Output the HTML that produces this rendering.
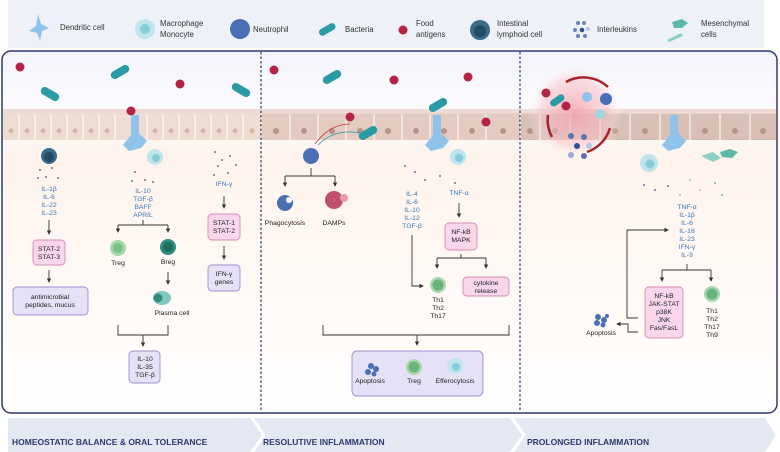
<!DOCTYPE html>
<html><head><meta charset="utf-8"><style>
html,body{margin:0;padding:0;background:#fff;}
svg{display:block;font-family:"Liberation Sans",sans-serif;}
.b{fill:#3a78b8;font-size:6.8px;text-anchor:middle;}
.k{fill:#222;font-size:6.8px;text-anchor:middle;}
.lg{fill:#333;font-size:7.8px;}
.ln{stroke:#333;stroke-width:0.9;fill:none;}
.pk{fill:#f9d6ea;stroke:#d889b8;stroke-width:0.9;}
.pu{fill:#e6e1f6;stroke:#9c8fd0;stroke-width:0.9;}
.hd{fill:#2d3a6e;font-size:8.5px;font-weight:bold;}
</style></head><body>
<svg width="780" height="452" viewBox="0 0 780 452">
<defs>
<marker id="a" markerWidth="5" markerHeight="5" refX="4" refY="2.5" orient="auto"><path d="M0,0L5,2.5L0,5z" fill="#333"/></marker>
<linearGradient id="bg" x1="0" y1="0" x2="0" y2="1"><stop offset="0" stop-color="#f3f4fb"/><stop offset="0.15" stop-color="#fbfbfe"/><stop offset="0.3" stop-color="#fef3ec"/><stop offset="1" stop-color="#ffffff"/></linearGradient>
<radialGradient id="glow"><stop offset="0" stop-color="#f4a0ad" stop-opacity="0.8"/><stop offset="0.7" stop-color="#f8c0c8" stop-opacity="0.5"/><stop offset="1" stop-color="#fff" stop-opacity="0"/></radialGradient>
</defs>
<rect x="8" y="0" width="756" height="48" fill="#eef1f8"/>
<path d="M38 14l3 10 8 4 -7 3 -2 10 -3 -8 -8 -2 7 -5z" fill="#8fc3ea"/><text class="lg" x="60" y="30">Dendritic cell</text>
<circle cx="145" cy="29" r="10" fill="#bfe5ec"/><circle cx="145" cy="29" r="5" fill="#88cbd9"/>
<text class="lg" x="160" y="26">Macrophage</text><text class="lg" x="160" y="37">Monocyte</text>
<circle cx="240" cy="29" r="10" fill="#4a6fb5"/><text class="lg" x="253" y="32">Neutrophil</text>
<rect x="318" y="26" width="18" height="7" rx="3.5" fill="#2a9ba5" transform="rotate(-30 327 29)"/><text class="lg" x="345" y="32">Bacteria</text>
<circle cx="403" cy="30" r="4.5" fill="#b52346"/><text class="lg" x="416" y="26">Food</text><text class="lg" x="416" y="37">antigens</text>
<circle cx="480" cy="30" r="10" fill="#3a6a88"/><circle cx="480" cy="31" r="6" fill="#244a66"/>
<text class="lg" x="497" y="26">Intestinal</text><text class="lg" x="497" y="37">lymphoid cell</text>
<g fill="#6a82bf"><circle cx="578" cy="23" r="2"/><circle cx="584" cy="23" r="2"/><circle cx="575" cy="30" r="2"/><circle cx="582" cy="30" r="2.3" fill="#2f4f96"/><circle cx="588" cy="29" r="2" fill="#b8c3e2"/><circle cx="578" cy="36" r="2"/><circle cx="585" cy="36" r="2"/></g>
<text class="lg" x="597" y="32">Interleukins</text>
<path d="M672 22l10 -3 6 4 -6 5 -8 0z" fill="#5cb8a8"/><path d="M667 40l14 -7 2 3 -14 6z" fill="#8dcfc2"/>
<text class="lg" x="701" y="26">Mesenchymal</text><text class="lg" x="701" y="37">cells</text>
<rect x="2" y="51" width="775" height="362" rx="9" fill="url(#bg)" stroke="#2d3a6e" stroke-width="1.5"/>
<rect x="3" y="113" width="258" height="27" fill="#efdcd2"/>
<rect x="262" y="113" width="258" height="27" fill="#e3cbbf"/>
<rect x="521" y="113" width="255" height="27" fill="#d8c0b5"/>
<g stroke="#fff" stroke-width="1">
<path d="M19 113v27M35 113v27M51 113v27M67 113v27M83 113v27M99 113v27M115 113v27M147 113v27M163 113v27M179 113v27M195 113v27M211 113v27M227 113v27M243 113v27M290 113v27M318 113v27M346 113v27M374 113v27M402 113v27M430 113v27M458 113v27M486 113v27M540 113v27M570 113v27M600 113v27M630 113v27M660 113v27M690 113v27M720 113v27M750 113v27"/>
</g>
<g fill="#d9b8aa"><circle cx="11" cy="131" r="2.5"/><circle cx="27" cy="131" r="2.5"/><circle cx="43" cy="131" r="2.5"/><circle cx="59" cy="131" r="2.5"/><circle cx="75" cy="131" r="2.5"/><circle cx="91" cy="131" r="2.5"/><circle cx="107" cy="131" r="2.5"/><circle cx="155" cy="131" r="2.5"/><circle cx="171" cy="131" r="2.5"/><circle cx="187" cy="131" r="2.5"/><circle cx="203" cy="131" r="2.5"/><circle cx="219" cy="131" r="2.5"/><circle cx="235" cy="131" r="2.5"/><circle cx="252" cy="131" r="2.5"/></g>
<g fill="#b8958a"><circle cx="276" cy="131" r="3"/><circle cx="304" cy="131" r="3"/><circle cx="332" cy="131" r="3"/><circle cx="360" cy="131" r="3"/><circle cx="388" cy="131" r="3"/><circle cx="416" cy="131" r="3"/><circle cx="444" cy="131" r="3"/><circle cx="472" cy="131" r="3"/><circle cx="503" cy="131" r="3"/><circle cx="530" cy="131" r="3"/><circle cx="555" cy="131" r="3"/><circle cx="615" cy="131" r="3"/><circle cx="645" cy="131" r="3"/><circle cx="705" cy="131" r="3"/><circle cx="735" cy="131" r="3"/><circle cx="763" cy="131" r="3"/></g>
<rect x="3" y="109" width="773" height="5" fill="#e9d5ca" opacity="0.8"/>
<path d="M261 52V412M520 52V412" stroke="#2d3a6e" stroke-width="1.2" stroke-dasharray="2.5,2"/>
<g fill="#b52346"><circle cx="20" cy="67" r="4.5"/><circle cx="180" cy="84" r="4.5"/><circle cx="131" cy="111" r="4.5"/><circle cx="274" cy="70" r="4.5"/><circle cx="394" cy="80" r="4.5"/><circle cx="468" cy="77" r="4.5"/><circle cx="350" cy="117" r="4.5"/><circle cx="486" cy="122" r="4.5"/></g>
<g fill="#2a9ba5">
<rect x="40" y="90" width="20" height="8" rx="4" transform="rotate(30 50 94)"/>
<rect x="110" y="68" width="20" height="8" rx="4" transform="rotate(-30 120 72)"/>
<rect x="231" y="86" width="20" height="8" rx="4" transform="rotate(30 241 90)"/>
<rect x="322" y="73" width="20" height="8" rx="4" transform="rotate(-30 332 77)"/>
<rect x="428" y="101" width="20" height="8" rx="4" transform="rotate(-30 438 105)"/>
<rect x="358" y="129" width="20" height="8" rx="4" transform="rotate(-30 368 133)"/>
</g>
<circle cx="575" cy="112" r="48" fill="url(#glow)"/>
<path d="M566 82a36 36 0 0 1 42 5M610 128a36 36 0 0 1 -23 24M552 137a36 36 0 0 1 -4 -22" stroke="#a3242a" stroke-width="2.5" fill="none"/>
<circle cx="546" cy="93" r="4.5" fill="#b52346"/><circle cx="566" cy="106" r="4.5" fill="#b52346"/>
<rect x="549" y="97" width="16" height="7" rx="3.5" fill="#2a9ba5" transform="rotate(-35 557 100)"/>
<circle cx="606" cy="99" r="6" fill="#4a6fb5"/><circle cx="600" cy="114" r="5" fill="#9fd8e0"/>
<g fill="#5e73b0"><circle cx="571" cy="136" r="3"/><circle cx="584" cy="137" r="3"/><circle cx="577" cy="146" r="3" fill="#2f4f96"/><circle cx="571" cy="155" r="3" fill="#9ea8d0"/><circle cx="584" cy="156" r="3"/><circle cx="589" cy="146" r="3" fill="#b8c3e2"/></g>
<g fill="#8fc3ea">
<path d="M131 115v20l-8 10 6 6 12 -3 6 -7 -8 -8v-18z"/>
<path d="M433 115v20l-8 10 6 6 12 -3 6 -7 -8 -8v-18z"/>
<path d="M670 115v20l-8 10 6 6 12 -3 6 -7 -8 -8v-18z"/>
<circle cx="587" cy="97" r="5"/>
</g>
<g><circle cx="155" cy="157" r="8" fill="#bfe5ec"/><circle cx="156" cy="158" r="4" fill="#88cbd9"/>
<circle cx="458" cy="157" r="8" fill="#bfe5ec"/><circle cx="459" cy="158" r="4" fill="#88cbd9"/>
<circle cx="649" cy="163" r="9" fill="#bfe5ec"/><circle cx="650" cy="164" r="4.5" fill="#88cbd9"/></g>
<path d="M701 156l12 -4 8 6 -8 4z" fill="#8dcfc2"/><path d="M720 152l10 -3 8 3 -6 6 -10 -1z" fill="#5cb8a8"/>
<circle cx="49" cy="156" r="8" fill="#3a6a88"/><circle cx="49" cy="157" r="5" fill="#244a66"/>
<circle cx="311" cy="156" r="8" fill="#4a6fb5"/>
<path d="M350 124q-20 0 -35 20" stroke="#c33" stroke-width="0.8" fill="none"/><path d="M360 133q-25 -5 -42 12" stroke="#2a9ba5" stroke-width="0.8" fill="none"/>
<g fill="#2f4f96"><circle cx="40" cy="170" r="0.9"/><circle cx="52" cy="168" r="0.9"/><circle cx="46" cy="177" r="0.9"/><circle cx="58" cy="178" r="0.9"/><circle cx="38" cy="178" r="0.9"/>
<circle cx="135" cy="172" r="0.9"/><circle cx="145" cy="180" r="0.9"/><circle cx="153" cy="182" r="0.9"/><circle cx="132" cy="181" r="0.9"/>
<circle cx="215" cy="152" r="0.9"/><circle cx="222" cy="160" r="0.9"/><circle cx="230" cy="156" r="0.9"/><circle cx="218" cy="166" r="0.9"/><circle cx="236" cy="165" r="0.9"/><circle cx="228" cy="173" r="0.9"/><circle cx="214" cy="175" r="0.9"/>
<circle cx="405" cy="166" r="0.9"/><circle cx="415" cy="172" r="0.9"/><circle cx="425" cy="180" r="0.9"/><circle cx="440" cy="176" r="0.9"/><circle cx="455" cy="183" r="0.9"/>
<circle cx="644" cy="185" r="0.9"/><circle cx="655" cy="190" r="0.9"/><circle cx="668" cy="186" r="0.9"/><circle cx="690" cy="180" r="0.9" fill="#c98"/><circle cx="700" cy="190" r="0.9" fill="#c98"/><circle cx="715" cy="183" r="0.9" fill="#4a9"/><circle cx="722" cy="195" r="0.9" fill="#4a9"/><circle cx="680" cy="195" r="0.9" fill="#c98"/></g>
<text class="b"><tspan x="49" y="191">IL-1β</tspan><tspan x="49" y="199">IL-6</tspan><tspan x="49" y="207">IL-22</tspan><tspan x="49" y="215">IL-23</tspan></text>
<path class="ln" d="M49 220V234" marker-end="url(#a)"/>
<rect class="pk" x="33" y="240" width="32" height="25" rx="4"/>
<text class="k"><tspan x="49" y="251">STAT-2</tspan><tspan x="49" y="259">STAT-3</tspan></text>
<path class="ln" d="M49 270V282" marker-end="url(#a)"/>
<rect class="pu" x="13" y="287" width="75" height="28" rx="4"/>
<text class="k"><tspan x="50" y="299">antimicrobial</tspan><tspan x="50" y="307">peptides, mucus</tspan></text>
<text class="b"><tspan x="143" y="193">IL-10</tspan><tspan x="143" y="201">TGF-β</tspan><tspan x="143" y="209">BAFF</tspan><tspan x="143" y="217">APRIL</tspan></text>
<path class="ln" d="M143 220V225M118 225H168"/>
<path class="ln" d="M118 225V232" marker-end="url(#a)"/><path class="ln" d="M168 225V232" marker-end="url(#a)"/>
<circle cx="118" cy="248" r="8" fill="#a9d8ae"/><circle cx="118" cy="248" r="5" fill="#7cc088"/>
<circle cx="168" cy="247" r="8" fill="#2f8c7c"/><circle cx="168" cy="247" r="5" fill="#1f6f60"/>
<text class="k" x="118" y="265">Treg</text><text class="k" x="168" y="264">Breg</text>
<path class="ln" d="M168 272V284" marker-end="url(#a)"/>
<ellipse cx="162" cy="298" rx="9" ry="7" fill="#7fc7c0"/><circle cx="158" cy="298" r="4.5" fill="#2f8c7c"/>
<text class="k" x="172" y="315">Plasma cell</text>
<path class="ln" d="M118 325V335H168V325"/><path class="ln" d="M143 335V346" marker-end="url(#a)"/>
<rect class="pu" x="129" y="351" width="31" height="32" rx="4"/>
<text class="k"><tspan x="145" y="361">IL-10</tspan><tspan x="145" y="369">IL-35</tspan><tspan x="145" y="377">TGF-β</tspan></text>
<text class="b" x="224" y="186">IFN-γ</text>
<path class="ln" d="M224 196V208" marker-end="url(#a)"/>
<rect class="pk" x="208" y="214" width="32" height="26" rx="4"/>
<text class="k"><tspan x="224" y="225">STAT-1</tspan><tspan x="224" y="233">STAT-2</tspan></text>
<path class="ln" d="M224 246V259" marker-end="url(#a)"/>
<rect class="pu" x="208" y="265" width="32" height="26" rx="4"/>
<text class="k"><tspan x="224" y="276">IFN-γ</tspan><tspan x="224" y="284">genes</tspan></text>
<path class="ln" d="M311 168V176M285 176H335"/><path class="ln" d="M285 176V186" marker-end="url(#a)"/><path class="ln" d="M335 176V186" marker-end="url(#a)"/>
<circle cx="285" cy="203" r="8" fill="#4a6fb5"/><circle cx="289" cy="200" r="3" fill="#fff"/>
<circle cx="334" cy="200" r="9" fill="#c24f6e"/><circle cx="344" cy="198" r="4" fill="#e89ab0"/>
<text class="k" x="285" y="225">Phagocytosis</text><text class="k" x="334" y="225">DAMPs</text>
<text class="b"><tspan x="412" y="196">IL-4</tspan><tspan x="412" y="204">IL-6</tspan><tspan x="412" y="212">IL-10</tspan><tspan x="412" y="220">IL-12</tspan><tspan x="412" y="228">TGF-β</tspan></text>
<path class="ln" d="M412 235V286H423" marker-end="url(#a)"/>
<text class="b" x="459" y="195">TNF-α</text>
<path class="ln" d="M459 203V217" marker-end="url(#a)"/>
<rect class="pk" x="445" y="223" width="32" height="27" rx="4"/>
<text class="k"><tspan x="461" y="234">NF-kB</tspan><tspan x="461" y="242">MAPK</tspan></text>
<path class="ln" d="M461 254V258M437 258H486"/><path class="ln" d="M437 258V268" marker-end="url(#a)"/><path class="ln" d="M486 258V268" marker-end="url(#a)"/>
<circle cx="438" cy="285" r="8" fill="#a9d8ae"/><circle cx="438" cy="285" r="5.5" fill="#6ab37a"/>
<text class="k"><tspan x="438" y="302">Th1</tspan><tspan x="438" y="310">Th2</tspan><tspan x="438" y="318">Th17</tspan></text>
<rect class="pk" x="463" y="277" width="46" height="19" rx="4"/>
<text class="k"><tspan x="486" y="285">cytokine</tspan><tspan x="486" y="293">release</tspan></text>
<path class="ln" d="M323 325V335H509V325"/><path class="ln" d="M417 335V345" marker-end="url(#a)"/>
<rect class="pu" x="352" y="351" width="131" height="45" rx="5"/>
<g fill="#4a6fb5"><circle cx="371" cy="366" r="3"/><circle cx="376" cy="369" r="3"/><circle cx="368" cy="372" r="3"/><circle cx="374" cy="374" r="2.5"/></g>
<circle cx="414" cy="367" r="8" fill="#a9d8ae"/><circle cx="414" cy="367" r="5.5" fill="#6ab37a"/>
<circle cx="455" cy="366" r="8" fill="#bfe5ec"/><circle cx="456" cy="367" r="4" fill="#88cbd9"/>
<text class="k"><tspan x="370" y="383">Apoptosis</tspan><tspan x="414" y="383">Treg</tspan><tspan x="455" y="383">Efferocytosis</tspan></text>
<text class="b"><tspan x="687" y="209">TNF-α</tspan><tspan x="687" y="217">IL-1β</tspan><tspan x="687" y="225">IL-6</tspan><tspan x="687" y="233">IL-18</tspan><tspan x="687" y="241">IL-23</tspan><tspan x="687" y="249">IFN-γ</tspan><tspan x="687" y="257">IL-9</tspan></text>
<path class="ln" d="M687 264V270M662 270H711"/><path class="ln" d="M662 270V281" marker-end="url(#a)"/><path class="ln" d="M711 270V281" marker-end="url(#a)"/>
<rect class="pk" x="645" y="287" width="38" height="51" rx="4"/>
<text class="k"><tspan x="664" y="298">NF-kB</tspan><tspan x="664" y="306">JAK-STAT</tspan><tspan x="664" y="314">p38K</tspan><tspan x="664" y="322">JNK</tspan><tspan x="664" y="330">Fas/FasL</tspan></text>
<circle cx="712" cy="294" r="8" fill="#a9d8ae"/><circle cx="712" cy="294" r="5.5" fill="#6ab37a"/>
<text class="k"><tspan x="712" y="313">Th1</tspan><tspan x="712" y="321">Th2</tspan><tspan x="712" y="329">Th17</tspan><tspan x="712" y="337">Th9</tspan></text>
<path class="ln" d="M638 318H627V230H668" marker-end="url(#a)"/>
<path class="ln" d="M638 332H628V324H617" marker-end="url(#a)"/>
<g fill="#4a6fb5"><circle cx="598" cy="317" r="3"/><circle cx="604" cy="320" r="3"/><circle cx="597" cy="323" r="3"/><circle cx="603" cy="325" r="2.5"/><circle cx="607" cy="316" r="2"/></g>
<text class="k" x="601" y="335">Apoptosis</text>
<path d="M8 418H250L262 435L250 452H8z" fill="#e4e8f3"/>
<path d="M254 418H510L522 435L510 452H254L266 435z" fill="#e4e8f3"/>
<path d="M514 418H765L776 435L765 452H514L526 435z" fill="#e4e8f3"/>
<text class="hd" x="12" y="445">HOMEOSTATIC BALANCE &amp; ORAL TOLERANCE</text>
<text class="hd" x="263" y="445">RESOLUTIVE INFLAMMATION</text>
<text class="hd" x="527" y="445">PROLONGED INFLAMMATION</text>
</svg>
</body></html>
